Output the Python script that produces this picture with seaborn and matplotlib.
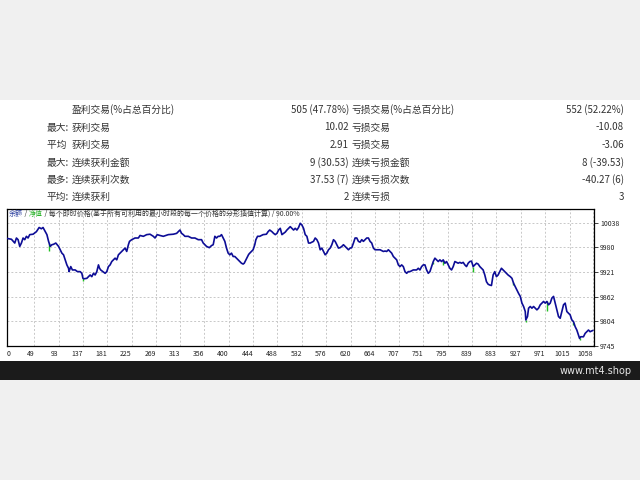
import numpy as np
import pandas as pd
import matplotlib
matplotlib.use("Agg")
import matplotlib.pyplot as plt
from matplotlib.patches import Rectangle
import seaborn as sns

# ---------------- data ----------------
row_labels = ["", "最大:", "平均 ", "最大:", "最多:", "平均:"]
win_labels = ["盈利交易(%占总百分比)", "获利交易", "获利交易", "连续获利金额", "连续获利次数", "连续获利"]
win_values = ["505 (47.78%)", "10.02", "2.91", "9 (30.53)", "37.53 (7)", "2"]
loss_labels = ["亏损交易(%占总百分比)", "亏损交易", "亏损交易", "连续亏损金额", "连续亏损次数", "连续亏损"]
loss_values = ["552 (52.22%)", "-10.08", "-3.06", "8 (-39.53)", "-40.27 (6)", "3"]

header_parts = ["余额", " / ", "净值", " / 每个即时价格(基于所有可利用的最小时段的每一个价格的分形插值计算) / 90.00%"]

trade = [0, 8, 14, 17, 20, 23, 26, 29, 32, 35, 38, 41, 47, 53, 58, 62, 65, 69, 72, 75, 78, 81, 84, 88,
         93, 96, 99, 102, 105, 108, 111, 112, 115, 118, 123, 127, 132, 135, 137, 139, 144, 147, 150, 153,
         156, 159, 162, 165, 167, 169, 173, 177, 180, 183, 186, 189, 192, 195, 198, 201, 204, 207, 210,
         213, 216, 219, 221, 225, 231, 237, 240, 246, 252, 258, 264, 267, 271, 276, 282, 291, 300, 306,
         312, 315, 318, 321, 327, 333, 339, 345, 351, 354, 360, 365, 369, 372, 375, 378, 381, 384, 387,
         390, 393, 396, 399, 402, 405, 408, 411, 414, 417, 420, 423, 426, 428, 431, 434, 436, 438, 444,
         447, 449, 452, 456, 462, 468, 471, 474, 478, 481, 484, 487, 490, 493, 496, 499, 502, 505, 508,
         511, 514, 517, 520, 523, 526, 529, 532, 535, 538, 541, 544, 547, 550, 553, 556, 559, 562, 565,
         568, 571, 574, 577, 580, 583, 586, 589, 592, 595, 598, 601, 604, 607, 610, 613, 616, 619, 622,
         625, 628, 631, 634, 637, 640, 643, 646, 649, 652, 655, 658, 661, 664, 667, 673, 679, 682, 685,
         688, 691, 694, 697, 700, 703, 706, 709, 712, 715, 718, 721, 724, 727, 733, 739, 742, 745, 748,
         751, 754, 757, 760, 763, 766, 769, 772, 775, 778, 781, 784, 787, 790, 793, 796, 799, 802, 805,
         808, 811, 814, 817, 820, 823, 826, 829, 832, 835, 838, 841, 844, 847, 850, 853, 856, 859, 862,
         865, 868, 871, 874, 877, 880, 883, 886, 889, 892, 895, 898, 901, 904, 908, 911, 914, 917, 920,
         923, 926, 929, 932, 935, 936, 939, 941, 944, 947, 950, 953, 956, 959, 962, 965, 968, 971, 974,
         977, 980, 983, 986, 989, 992, 995, 998, 1001, 1004, 1007, 1010, 1013, 1016, 1019, 1022, 1025,
         1028, 1031, 1033, 1035, 1040, 1043, 1046, 1049, 1052, 1055, 1057]
balance = [10001, 9999, 9990, 10002, 9998, 9982, 9990, 10002, 9998, 10006, 10002, 10010, 10011, 10017,
           10027, 10024, 10027, 10017, 10010, 9994, 9982, 9986, 9987, 9990, 9982, 9974, 9966, 9962, 9950,
           9938, 9930, 9922, 9934, 9926, 9926, 9922, 9922, 9918, 9906, 9905, 9906, 9910, 9914, 9910, 9918,
           9914, 9922, 9938, 9930, 9926, 9922, 9918, 9922, 9934, 9938, 9946, 9950, 9954, 9950, 9962, 9966,
           9970, 9974, 9978, 9970, 9986, 9994, 9998, 10002, 10002, 10008, 10006, 10010, 10011, 10006,
           10002, 10010, 10008, 10006, 10010, 10011, 10013, 10021, 10013, 10010, 10006, 10006, 10002,
           10002, 9998, 9998, 9990, 9982, 9979, 9984, 9986, 10006, 10002, 10006, 10006, 10010, 10002,
           9994, 9978, 9966, 9962, 9966, 9958, 9958, 9954, 9950, 9946, 9942, 9940, 9942, 9950, 9958,
           9963, 9966, 9974, 9986, 9998, 10006, 10006, 10010, 10011, 10017, 10021, 10017, 10013, 10010,
           10013, 10021, 10025, 10010, 10013, 10016, 10021, 10025, 10029, 10025, 10021, 10025, 10021,
           10027, 10037, 10033, 10025, 10010, 10006, 9990, 9990, 9992, 9994, 10002, 9998, 9990, 9974,
           9978, 9970, 9962, 9966, 9974, 9978, 9986, 9998, 9994, 9986, 9978, 9979, 9982, 9986, 9982,
           9978, 9974, 9978, 9979, 9990, 10002, 10002, 9994, 9992, 9998, 9994, 9998, 10002, 10002, 9994,
           9990, 9978, 9974, 9974, 9974, 9970, 9971, 9970, 9974, 9970, 9966, 9958, 9954, 9950, 9938,
           9934, 9938, 9934, 9922, 9918, 9922, 9922, 9926, 9926, 9930, 9926, 9934, 9938, 9938, 9926,
           9918, 9922, 9934, 9946, 9954, 9950, 9946, 9950, 9946, 9950, 9942, 9946, 9938, 9930, 9926,
           9934, 9946, 9944, 9942, 9944, 9942, 9944, 9938, 9934, 9942, 9946, 9947, 9934, 9938, 9942,
           9940, 9934, 9930, 9926, 9914, 9898, 9892, 9890, 9889, 9914, 9922, 9910, 9914, 9922, 9930,
           9926, 9922, 9918, 9914, 9910, 9906, 9894, 9886, 9878, 9870, 9863, 9847, 9839, 9827, 9807,
           9815, 9835, 9839, 9835, 9839, 9835, 9831, 9835, 9843, 9847, 9851, 9847, 9851, 9843, 9847,
           9859, 9863, 9847, 9831, 9815, 9811, 9827, 9843, 9847, 9827, 9823, 9819, 9807, 9803, 9791,
           9783, 9771, 9763, 9767, 9767, 9775, 9779, 9783, 9779, 9781, 9782]

equity_dip_trade = [76, 137, 769, 787, 841, 913, 936, 974, 1022, 1034]
equity_dip_low = [9972, 9900, 9940, 9938, 9922, 9890, 9802, 9829, 9795, 9760]

x_tick_labels = ["0", "49", "93", "137", "181", "225", "269", "313", "356", "400", "444", "488", "532",
                 "576", "620", "664", "707", "751", "795", "839", "883", "927", "971", "1015", "1058"]
y_tick_values = [9745, 9804, 9862, 9921, 9980, 10038]

watermark = "www.mt4.shop"

# ---------------- style ----------------
sns.set_style("white")
plt.rcParams['font.family'] = ['Noto Sans CJK SC', 'DejaVu Sans']

W, H = 640, 480
fig = plt.figure(figsize=(6.4, 4.8), dpi=100)
fig.patch.set_facecolor("white")

def fy(py):
    return 1 - py / H

# background bands
fig.patches.append(Rectangle((0, fy(100)), 1, 100 / H, transform=fig.transFigure,
                             facecolor="#f0f0f0", edgecolor="none", zorder=0))
fig.patches.append(Rectangle((0, 0), 1, fy(380), transform=fig.transFigure,
                             facecolor="#f0f0f0", edgecolor="none", zorder=0))
fig.patches.append(Rectangle((0, fy(380)), 1, 19.5 / H, transform=fig.transFigure,
                             facecolor="#1b1b1b", edgecolor="none", zorder=0))
fig.text(632 / W, fy(370.5), watermark, ha="right", va="center", color="#e6e6e6",
         fontsize=7, family=["DejaVu Sans"])

# stats table
tc = "#333333"
row_y = [110, 127.5, 145, 162.5, 180, 197]
for i, yy in enumerate(row_y):
    fig.text(69 / W, fy(yy), row_labels[i], ha="right", va="center", fontsize=7, color=tc)
    fig.text(72 / W, fy(yy), win_labels[i], ha="left", va="center", fontsize=7, color=tc)
    fig.text(349 / W, fy(yy), win_values[i], ha="right", va="center", fontsize=7, color=tc)
    fig.text(352 / W, fy(yy), loss_labels[i], ha="left", va="center", fontsize=7, color=tc)
    fig.text(624 / W, fy(yy), loss_values[i], ha="right", va="center", fontsize=7, color=tc)

# chart
ax = fig.add_axes([7 / W, fy(346), 587 / W, 137 / H])
ax.set_facecolor("white")
df = pd.DataFrame({"trade": trade, "balance": balance})

dip_top = np.interp(equity_dip_trade, trade, balance)
ax.vlines(equity_dip_trade, equity_dip_low, dip_top, color="#22c022", lw=1.0, zorder=2)

sns.lineplot(data=df, x="trade", y="balance", ax=ax, color="#0d0d96", linewidth=1.2,
             estimator=None, sort=False, zorder=3)

ax.set_xlim(0, 1059)
ax.set_ylim(9745, 10071)
tick_pos = [int(s) for s in x_tick_labels]
ax.set_xticks(tick_pos)
ax.set_xticklabels(x_tick_labels)
for i, lab in enumerate(ax.get_xticklabels()):
    lab.set_ha("left" if i == 0 else "right")
ax.set_yticks(y_tick_values)
ax.set_yticklabels([str(v) for v in y_tick_values])
ax.yaxis.tick_right()
ax.tick_params(axis="y", direction="out", length=3, width=0.6, labelsize=5, pad=1.5,
               colors="#222222")
ax.tick_params(axis="x", direction="out", length=0, labelsize=5, pad=3, colors="#222222")
ax.set_xlabel("")
ax.set_ylabel("")
ax.grid(True, color="#c8c8c8", linestyle=(0, (2, 2)), linewidth=0.7)
for sp in ax.spines.values():
    sp.set_color("#000000")
    sp.set_linewidth(0.9)
    sp.set_visible(True)

# header inside the chart
hcolors = ["#2b3f9e", "#333333", "#2bb32b", "#333333"]
t = ax.text(2 / 587, 1 - 5 / 137, header_parts[0], transform=ax.transAxes, ha="left",
            va="center", fontsize=5, color=hcolors[0], zorder=5)
for part, col in zip(header_parts[1:], hcolors[1:]):
    t = ax.annotate(part, xy=(1, 0), xycoords=t, ha="left", va="bottom", fontsize=5,
                    color=col, zorder=5)

fig.savefig("out.png", dpi=100)
